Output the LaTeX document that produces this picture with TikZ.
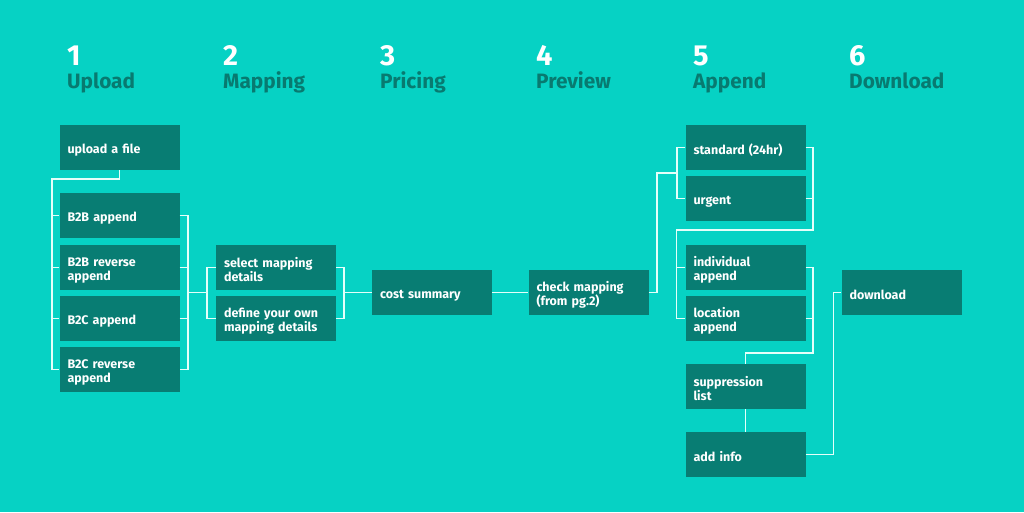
\documentclass[tikz,border=0pt]{standalone}
\usepackage{fontspec}
\setmainfont{Fira Sans}
\usetikzlibrary{calc}
\definecolor{bgc}{HTML}{06D2C4}
\definecolor{boxc}{HTML}{087D73}
\definecolor{linec}{HTML}{E4FFFA}
\definecolor{titlec}{HTML}{087A70}
\begin{document}
\begin{tikzpicture}[x=1pt,y=-1pt,
  stepbox/.style={rectangle,fill=boxc,minimum width=120pt,minimum height=45pt,text width=104pt,inner xsep=8pt,align=left,text=white,font=\fontsize{12.5}{14}\selectfont\bfseries,execute at begin node={\rule{0pt}{15pt}}},
  ln/.style={draw=linec,line width=1.4pt},
  num/.style={anchor=base west,inner sep=0pt,text=white,font=\fontsize{29}{30}\selectfont\bfseries},
  ttl/.style={anchor=base west,inner sep=0pt,text=titlec,font=\fontsize{20.8}{22}\selectfont\bfseries}]
\fill[bgc] (0,0) rectangle (1024,512);
\useasboundingbox (0,0) rectangle (1024,512);
% headings
\foreach \x/\n/\t [count=\i] in {67/1/Upload,223/2/Mapping,380/3/Pricing,536/4/Preview,693/5/Append,849/6/Download}{
  \node[num] (n\i) at (\x,65) {\n};
  \node[ttl] (t\i) at (\x,88) {\t};
}
% boxes
\node[stepbox] (up) at (119.5,147.5) {upload a file};
\node[stepbox] (b2b) at (119.5,215.5) {B2B append};
\node[stepbox] (b2br) at (119.5,267.5) {B2B reverse\\append};
\node[stepbox] (b2c) at (119.5,318.5) {B2C append};
\node[stepbox] (b2cr) at (119.5,369.5) {B2C reverse\\append};
\node[stepbox] (sel) at (276,267.5) {select mapping\\details};
\node[stepbox] (def) at (276,318.5) {define your own\\mapping details};
\node[stepbox] (cost) at (432,292.5) {cost summary};
\node[stepbox] (chk) at (588.5,292.5) {check mapping\\(from pg.2)};
\node[stepbox] (std) at (745.5,147.5) {standard (24hr)};
\node[stepbox] (urg) at (745.5,198.5) {urgent};
\node[stepbox] (ind) at (745.5,267.5) {individual\\append};
\node[stepbox] (loc) at (745.5,318.5) {location\\append};
\node[stepbox] (sup) at (745.5,386.5) {suppression\\list};
\node[stepbox] (add) at (745.5,454.5) {add info};
\node[stepbox] (dl) at (901.5,292.5) {download};
% coordinates
\coordinate (c1) at (52,179);
\coordinate (j1) at (188,292.5);
\coordinate (j2) at (207,292.5);
\coordinate (j3) at (344,292.5);
\coordinate (c6) at (657,173);
\coordinate (c7) at (677,173);
\coordinate (c8) at (813,230);
\coordinate (c9) at (813,353);
% upload group
\draw[ln] (up.south) |- (c1) |- (b2cr.west);
\draw[ln] (b2b.west) -- (b2b.west -| c1);
\draw[ln] (b2br.west) -- (b2br.west -| c1);
\draw[ln] (b2c.west) -- (b2c.west -| c1);
\draw[ln] (b2b.east) -| (j1) |- (b2cr.east);
\draw[ln] (b2br.east) -- (b2br.east -| j1);
\draw[ln] (b2c.east) -- (b2c.east -| j1);
\draw[ln] (j1) -- (j2);
% mapping group
\draw[ln] (sel.west) -| (j2) |- (def.west);
\draw[ln] (sel.east) -| (j3) |- (def.east);
\draw[ln] (j3) -- (cost.west);
\draw[ln] (cost.east) -- (chk.west);
% append group
\draw[ln] (chk.east) -| (c6) -- (c7);
\draw[ln] (std.west) -| (c7) |- (urg.west);
\draw[ln] (std.east) -| (c8) -| ($(loc.west)+(-9,0)$) -- (loc.west);
\draw[ln] (urg.east) -- (urg.east -| c8);
\draw[ln] (ind.west) -- ++(-9,0);
\draw[ln] (ind.east) -| (c9) -| (sup.north);
\draw[ln] (loc.east) -- (loc.east -| c9);
\draw[ln] (sup.south) -- (add.north);
\draw[ln] (add.east) -- ++(28,0) |- (dl.west);
\end{tikzpicture}
\end{document}
